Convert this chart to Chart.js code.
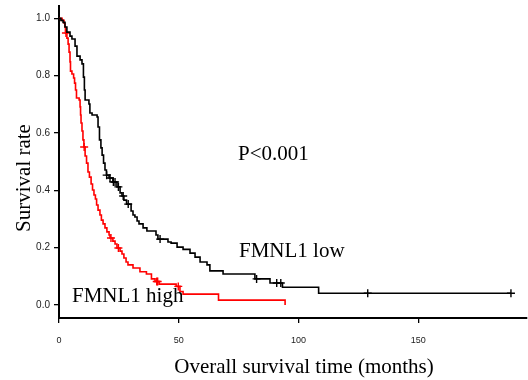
<!DOCTYPE html>
<html>
<head>
<meta charset="utf-8">
<script src="https://cdn.jsdelivr.net/npm/chart.js@4/dist/chart.umd.min.js"></script>
<style>
html,body{margin:0;padding:0;background:#fff;}
#wrap{width:528px;height:380px;}
</style>
</head>
<body>
<div id="wrap"><canvas id="c" width="528" height="380"></canvas></div>
<script>
// ---- data ----
const lowTimes = [0,0.8,1.7,2.5,3.3,4.6,5.4,6.7,7.5,8.8,9.6,10.2,10.6,10.9,12.5,12.9,13.8,15.9,16.3,16.9,17.5,18.0,18.6,19.2,19.8,20.9,22.5,24.2,25.5,26.3,27.1,28.2,30.1,30.9,31.7,32.6,33.4,35.1,36.7,40.5,41.3,45.5,46.8,49.3,51.8,54.7,56.8,58.9,61.8,63.0,68.5,81.8,88.1,93.3,108.4,188.7];
const lowSurv = [1.0,0.993,0.986,0.970,0.952,0.938,0.928,0.903,0.868,0.855,0.841,0.795,0.750,0.715,0.701,0.670,0.663,0.656,0.621,0.576,0.548,0.523,0.495,0.471,0.453,0.443,0.429,0.412,0.391,0.380,0.366,0.352,0.328,0.314,0.307,0.293,0.283,0.269,0.258,0.244,0.230,0.220,0.216,0.202,0.194,0.181,0.167,0.150,0.140,0.119,0.108,0.091,0.077,0.062,0.041,0.041];
const lowCensor = [19.9,21.3,22.7,23.4,24.8,26.8,28.9,42.2,82.5,90.9,92.6,128.9,188.7];

const highTimes = [0,1.3,2.1,2.5,2.7,3.3,3.8,4.2,4.6,4.8,5.4,6.1,6.5,6.9,7.3,8.4,8.8,9.0,9.2,9.6,10.0,10.4,10.9,11.5,12.1,12.7,13.4,14.0,14.6,15.2,15.7,16.3,17.1,17.7,18.4,19.2,20.0,20.9,21.3,22.5,23.4,24.2,25.5,26.3,27.1,28.0,28.8,30.9,33.8,36.5,38.6,40.1,41.8,48.9,50.5,51.8,66.6,94.4];
const highSurv = [1.0,0.993,0.983,0.970,0.949,0.931,0.910,0.882,0.848,0.816,0.806,0.792,0.774,0.750,0.722,0.715,0.691,0.663,0.635,0.607,0.576,0.551,0.520,0.495,0.464,0.446,0.422,0.401,0.384,0.370,0.349,0.331,0.314,0.296,0.283,0.269,0.255,0.244,0.234,0.223,0.213,0.199,0.188,0.178,0.164,0.150,0.140,0.129,0.116,0.108,0.091,0.082,0.073,0.065,0.047,0.038,0.017,0.0];
const highCensor = [2.9,10.5,21.7,24.8,40.8,41.2,49.8];

const xTicks = [0,50,100,150];
const yTicks = [0,0.2,0.4,0.6,0.8,1.0];
const labelLow = "FMNL1 low";
const labelHigh = "FMNL1 high";
const pText = "P<0.001";
const xTitle = "Overall survival time (months)";
const yTitle = "Survival rate";

// ---- build datasets ----
function curve(times, surv){ return times.map((t,i)=>({x:t,y:surv[i]})); }
function survAt(times, surv, t){
  let v = surv[0];
  for(let i=0;i<times.length;i++){ if(times[i] <= t) v = surv[i]; }
  return v;
}
function censor(times, surv, cs){ return cs.map(t=>({x:t,y:survAt(times,surv,t)})); }

const textPlugin = {
  id:'texts',
  afterDraw(chart){
    const ctx = chart.ctx;
    ctx.save();
    ctx.fillStyle = '#000';
    ctx.font = '21px "Liberation Serif", "Times New Roman", serif';
    ctx.textBaseline = 'alphabetic';
    ctx.textAlign = 'left';
    ctx.fillText(pText, 238, 160);
    ctx.fillText(labelLow, 239, 257);
    ctx.fillText(labelHigh, 72, 302);
    ctx.textAlign = 'center';
    ctx.fillText(xTitle, 304, 373);
    ctx.translate(30, 178);
    ctx.rotate(-Math.PI/2);
    ctx.fillText(yTitle, 0, 0);
    ctx.restore();
  }
};

new Chart(document.getElementById('c'), {
  type:'line',
  data:{
    datasets:[
      {data:curve(lowTimes,lowSurv), borderColor:'#000', borderWidth:1.6, stepped:true, pointRadius:0, fill:false},
      {data:curve(highTimes,highSurv), borderColor:'#ff0000', borderWidth:1.6, stepped:true, pointRadius:0, fill:false},
      {data:censor(lowTimes,lowSurv,lowCensor), showLine:false, pointStyle:'cross', pointRadius:4, borderColor:'#000', borderWidth:1.4, backgroundColor:'#000'},
      {data:censor(highTimes,highSurv,highCensor), showLine:false, pointStyle:'cross', pointRadius:4, borderColor:'#ff0000', borderWidth:1.4, backgroundColor:'#ff0000'}
    ]
  },
  options:{
    responsive:false,
    animation:false,
    layout:{autoPadding:false, padding:{left:0,right:1,top:6,bottom:0}},
    plugins:{legend:{display:false}, tooltip:{enabled:false}},
    scales:{
      x:{
        type:'linear', min:0, max:195.4,
        afterBuildTicks(s){ s.ticks = xTicks.map(v=>({value:v})); },
        afterFit(s){ s.height = 62; s.paddingLeft = 0; s.paddingRight = 0; },
        grid:{display:true, drawOnChartArea:false, drawTicks:true, tickLength:5, color:'#000', lineWidth:1.3},
        border:{display:true, color:'#000', width:2},
        ticks:{color:'#222', font:{family:'"Liberation Sans", Arial, sans-serif', size:9}, padding:12, maxRotation:0, autoSkip:false}
      },
      y:{
        type:'linear', min:-0.0453, max:1.043,
        afterBuildTicks(s){ s.ticks = yTicks.map(v=>({value:v})); },
        afterFit(s){ s.width = 59; s.paddingTop = 0; s.paddingBottom = 0; },
        grid:{display:true, drawOnChartArea:false, drawTicks:true, tickLength:5, color:'#000', lineWidth:1.3},
        border:{display:true, color:'#000', width:2},
        ticks:{color:'#222', font:{family:'"Liberation Sans", Arial, sans-serif', size:10}, padding:4, callback:v=>Number(v).toFixed(1)}
      }
    }
  },
  plugins:[textPlugin]
});
</script>
</body>
</html>
